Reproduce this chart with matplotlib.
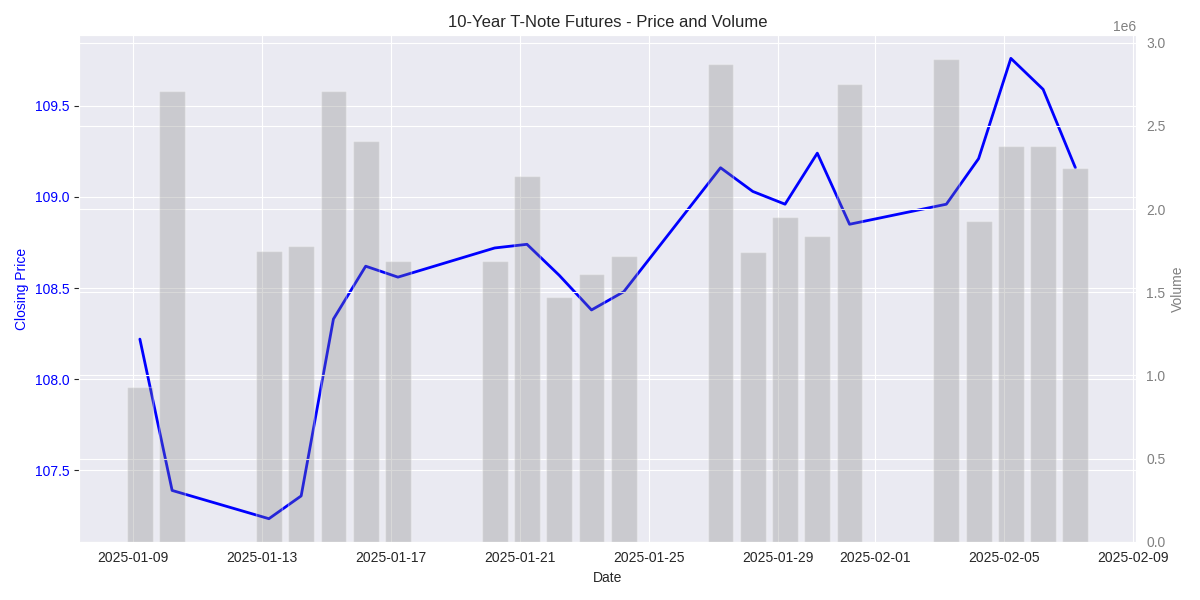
import pandas as pd
import matplotlib.pyplot as plt
import seaborn as sns

sns.set_style('darkgrid')
plt.rcParams['font.family'] = ['Liberation Sans', 'DejaVu Sans']

dates = ['2025-01-09', '2025-01-10', '2025-01-13', '2025-01-14', '2025-01-15',
         '2025-01-16', '2025-01-17', '2025-01-20', '2025-01-21', '2025-01-22',
         '2025-01-23', '2025-01-24', '2025-01-27', '2025-01-28', '2025-01-29',
         '2025-01-30', '2025-01-31', '2025-02-03', '2025-02-04', '2025-02-05',
         '2025-02-06', '2025-02-07']
close = [108.22, 107.39, 107.235, 107.36, 108.33, 108.62, 108.56, 108.72,
         108.74, 108.57, 108.38, 108.48, 109.16, 109.03, 108.96, 109.24,
         108.85, 108.96, 109.21, 109.76, 109.59, 109.16]
volume = [0.93e6, 2.71e6, 1.75e6, 1.78e6, 2.71e6, 2.41e6, 1.69e6, 1.69e6,
          2.20e6, 1.47e6, 1.61e6, 1.72e6, 2.87e6, 1.74e6, 1.95e6, 1.84e6,
          2.75e6, 2.90e6, 1.93e6, 2.38e6, 2.38e6, 2.25e6]

# timestamps are New York midnight in UTC
x = pd.to_datetime(dates) + pd.Timedelta(hours=5)

fig, ax1 = plt.subplots(figsize=(12, 6), dpi=100)
ax1.plot(x, close, color='blue', linewidth=2)
ax1.set_xlabel('Date')
ax1.set_ylabel('Closing Price', color='blue')
ax1.tick_params(axis='y', labelcolor='blue')

ax2 = ax1.twinx()
ax2.bar(x, volume, color='gray', alpha=0.3, width=0.8)
ax2.set_ylabel('Volume', color='gray')
ax2.tick_params(axis='y', labelcolor='gray', color='white')

plt.title('10-Year T-Note Futures - Price and Volume')
fig.tight_layout()
plt.savefig('out.png')
